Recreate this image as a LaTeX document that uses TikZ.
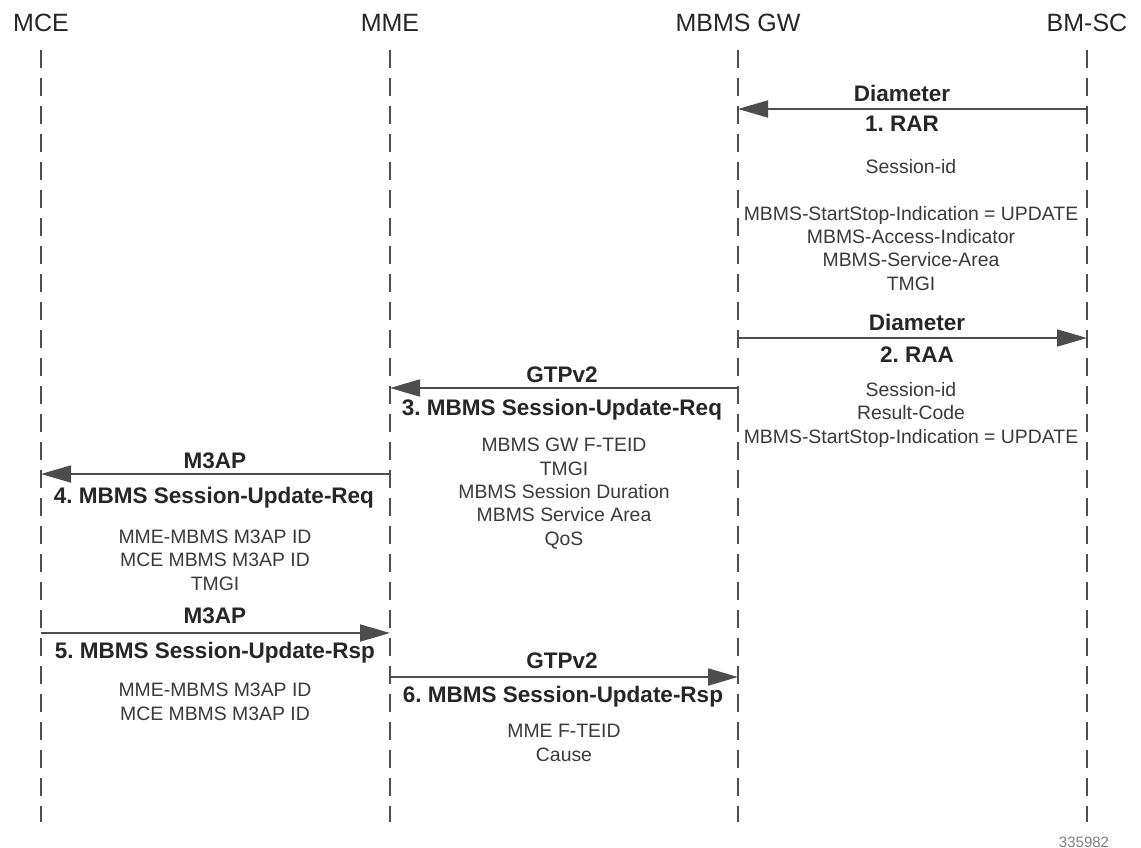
\documentclass[tikz,border=0pt]{standalone}
\usepackage{fontspec}
\setmainfont{Liberation Sans}
\usepackage{xcolor}
\definecolor{white}{RGB}{255,255,255}
\definecolor{darkgray}{HTML}{262626}
\definecolor{textgray}{HTML}{3A3A3A}
\definecolor{linegray}{HTML}{4D4D4D}
\usetikzlibrary{arrows.meta,positioning}
\frenchspacing

\begin{document}
\begin{tikzpicture}[x=1pt, y=-1pt,
		entity/.style={anchor=base, inner sep=0pt, text=darkgray,
					font=\fontsize{25}{30}\selectfont},
		lifeline/.style={draw=linegray, line width=1.7pt, dash pattern=on 18pt off 10pt},
		msg/.style={draw=linegray, line width=1.8pt, -{Triangle[length=30pt, width=17pt]}},
		proto/.style={anchor=base, inner sep=0pt, text=darkgray,
					font=\bfseries\fontsize{22.5}{27}\selectfont},
		param/.style={anchor=base, inner sep=0pt, align=center, text=textgray,
					font=\fontsize{19.4}{23.3}\selectfont}]
		\useasboundingbox[fill=white] (0,0) rectangle (1141,848);

		% entities and lifelines
		\node (mce) [entity] at (41,32) {MCE};
		\node (mme) [entity] at (390,32) {MME};
		\node (gw) [entity] at (738,32) {MBMS GW};
		\node (bmsc) [entity] at (1087,32) {BM-SC};
		\foreach \e in {mce,mme,gw,bmsc}
			\draw[lifeline] ([yshift=-18pt]\e.base) -- ++(0,772) coordinate (\e-end);

		% 1. RAR (param nodes sit on their last line)
		\coordinate (rar-a) at (1087,109);
		\coordinate (rar-b) at (738,109);
		\draw[msg] (rar-a) -- (rar-b);
		\node (rar-p) [proto] at (902,102) {Diameter};
		\node (rar) [proto] at (902,132) {1. RAR};
		\node (rar-i) [param] at (911,290) {Session-id\\[23.5pt]MBMS-StartStop-Indication = UPDATE\\
			MBMS-Access-Indicator\\MBMS-Service-Area\\TMGI};

		% 2. RAA
		\coordinate (raa-a) at (738,338);
		\coordinate (raa-b) at (1087,338);
		\draw[msg] (raa-a) -- (raa-b);
		\node (raa-p) [proto] at (917,330) {Diameter};
		\node (raa) [proto] at (917,362) {2. RAA};
		\node (raa-i) [param] at (911,443) {Session-id\\Result-Code\\MBMS-StartStop-Indication = UPDATE};

		% 3. Session-Update-Req (GTPv2)
		\coordinate (req3-a) at (738,388);
		\coordinate (req3-b) at (390,388);
		\draw[msg] (req3-a) -- (req3-b);
		\node (req3-p) [proto] at (562,382) {GTPv2};
		\node (req3) [proto] at (562,415) {3. MBMS Session-Update-Req};
		\node (req3-i) [param] at (564,545) {MBMS GW F-TEID\\TMGI\\MBMS Session Duration\\
			MBMS Service Area\\QoS};

		% 4. Session-Update-Req (M3AP)
		\coordinate (req4-a) at (390,474);
		\coordinate (req4-b) at (41,474);
		\draw[msg] (req4-a) -- (req4-b);
		\node (req4-p) [proto] at (215,468) {M3AP};
		\node (req4) [proto] at (214,503) {4. MBMS Session-Update-Req};
		\node (req4-i) [param] at (215,590) {MME-MBMS M3AP ID\\MCE MBMS M3AP ID\\TMGI};

		% 5. Session-Update-Rsp (M3AP)
		\coordinate (rsp5-a) at (41,633);
		\coordinate (rsp5-b) at (390,633);
		\draw[msg] (rsp5-a) -- (rsp5-b);
		\node (rsp5-p) [proto] at (215,623) {M3AP};
		\node (rsp5) [proto] at (215,658) {5. MBMS Session-Update-Rsp};
		\node (rsp5-i) [param] at (215,720) {MME-MBMS M3AP ID\\MCE MBMS M3AP ID};

		% 6. Session-Update-Rsp (GTPv2)
		\coordinate (rsp6-a) at (390,677);
		\coordinate (rsp6-b) at (738,677);
		\draw[msg] (rsp6-a) -- (rsp6-b);
		\node (rsp6-p) [proto] at (562,668) {GTPv2};
		\node (rsp6) [proto] at (563,702) {6. MBMS Session-Update-Rsp};
		\node (rsp6-i) [param] at (564,761) {MME F-TEID\\Cause};

		\node (fig) [anchor=base, inner sep=0pt, text=gray, font=\fontsize{15}{18}\selectfont]
			at (1084,847) {335982};
	\end{tikzpicture}
\end{document}
